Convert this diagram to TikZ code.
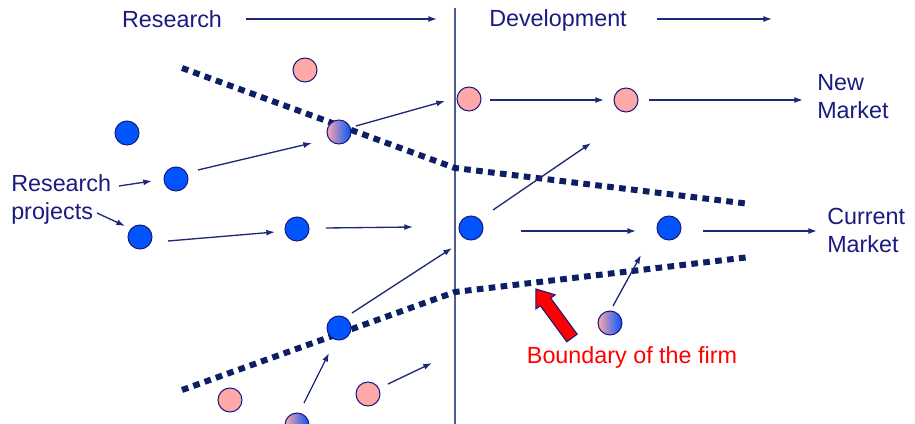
\documentclass[tikz,border=0pt]{standalone}
\usepackage{fontspec}
\setmainfont{Liberation Sans}
\usetikzlibrary{arrows.meta}
\definecolor{txtnavy}{RGB}{26,26,128}
\definecolor{arrnavy}{RGB}{30,40,120}
\definecolor{dashnavy}{RGB}{12,30,100}
\definecolor{vline}{RGB}{80,90,150}
\definecolor{cblue}{RGB}{0,85,255}
\definecolor{cpink}{RGB}{255,168,168}
\tikzset{
  lbl/.style={text=txtnavy, font=\fontsize{17.5pt}{21pt}\selectfont, inner sep=0pt},
  arr/.style={draw=arrnavy, line width=1pt, -{Latex[length=6.5pt,width=4.5pt]}},
  bdot/.style={circle, draw=txtnavy, line width=0.8pt, fill=cblue, minimum size=18pt, inner sep=0pt},
  pdot/.style={circle, draw=txtnavy, line width=0.8pt, fill=cpink, minimum size=18pt, inner sep=0pt},
  gdot/.style={circle, draw=txtnavy, line width=0.8pt, left color=cpink, right color=cblue, minimum size=18pt, inner sep=0pt},
  bound/.style={draw=dashnavy, line width=4.5pt, dash pattern=on 5pt off 4pt}
}
\begin{document}
\begin{tikzpicture}[x=0.75pt,y=-0.75pt]
\useasboundingbox (0,0) rectangle (915,424);
% vertical divider
\coordinate (vtop) at (455,8);
\coordinate (vbot) at (455,424);
\draw[vline, line width=1pt] (vtop) -- (vbot);
% boundaries of the firm
\coordinate (u1) at (182,68); \coordinate (u2) at (455,168); \coordinate (u3) at (750,204);
\coordinate (l1) at (182,390); \coordinate (l2) at (455,292); \coordinate (l3) at (750,257);
\draw[bound] (u1) -- (u2) -- (u3);
\draw[bound] (l1) -- (l2) -- (l3);
% headings
\node[lbl] (research) at (172,19) {Research};
\node[lbl] (develop) at (558,20) {Development};
\coordinate (ra1) at (246,19); \coordinate (ra2) at (437,19);
\coordinate (da1) at (657,19); \coordinate (da2) at (772,19);
\draw[arr] (ra1) -- (ra2);
\draw[arr] (da1) -- (da2);
% circles
\node[bdot] (b1) at (127,133) {};
\node[bdot] (b2) at (176,179) {};
\node[bdot] (b3) at (140,237) {};
\node[bdot] (b4) at (297,229) {};
\node[bdot] (b5) at (471,228) {};
\node[bdot] (b6) at (669,228) {};
\node[bdot] (b7) at (339,328) {};
\node[pdot] (p1) at (305,70) {};
\node[pdot] (p2) at (469,99) {};
\node[pdot] (p3) at (626,100) {};
\node[pdot] (p4) at (230,400) {};
\node[pdot] (p5) at (368,394) {};
\node[gdot] (g1) at (339,132) {};
\node[gdot] (g2) at (610,323) {};
\node[gdot] (g3) at (297,425) {};
% arrow coordinates
\coordinate (a1s) at (198,170); \coordinate (a1e) at (312,143);
\coordinate (a2s) at (356,126); \coordinate (a2e) at (445,101);
\coordinate (a3s) at (490,100); \coordinate (a3e) at (604,100);
\coordinate (a4s) at (649,100); \coordinate (a4e) at (803,100);
\coordinate (a5s) at (168,241); \coordinate (a5e) at (275,232);
\coordinate (a6s) at (326,228); \coordinate (a6e) at (413,227);
\coordinate (a7s) at (493,210); \coordinate (a7e) at (591,143);
\coordinate (a8s) at (521,231); \coordinate (a8e) at (636,231);
\coordinate (a9s) at (703,231); \coordinate (a9e) at (817,231);
\coordinate (a10s) at (352,313); \coordinate (a10e) at (452,248);
\coordinate (a11s) at (613,306); \coordinate (a11e) at (641,255);
\coordinate (a12s) at (304,403); \coordinate (a12e) at (329,353);
\coordinate (a13s) at (388,384); \coordinate (a13e) at (432,363);
\coordinate (a14s) at (119,186); \coordinate (a14e) at (152,181);
\coordinate (a15s) at (97,213); \coordinate (a15e) at (125,226);
\foreach \i in {1,...,15} {\draw[arr] (a\i s) -- (a\i e);}
% labels
\node[lbl, align=left, anchor=west] (rp) at (11,199) {Research\\projects};
\node[lbl, align=left, anchor=west] (nm) at (817,97) {New\\Market};
\node[lbl, align=left, anchor=west] (cm) at (827,230) {Current\\Market};
\node[lbl, text=red] (bf) at (632,357) {Boundary of the firm};
% red block arrow
\coordinate (t1) at (577.2,334.2); \coordinate (h1) at (550.7,298.1); \coordinate (k1) at (555.2,294.8);
\coordinate (tip) at (536,289);
\coordinate (k2) at (535.8,309.0); \coordinate (h2) at (540.3,305.7); \coordinate (t2) at (566.8,341.8);
\draw[fill=red, draw=txtnavy, line width=0.8pt, line join=miter] (t1) -- (h1) -- (k1) -- (tip) -- (k2) -- (h2) -- (t2) -- cycle;
\end{tikzpicture}
\end{document}
